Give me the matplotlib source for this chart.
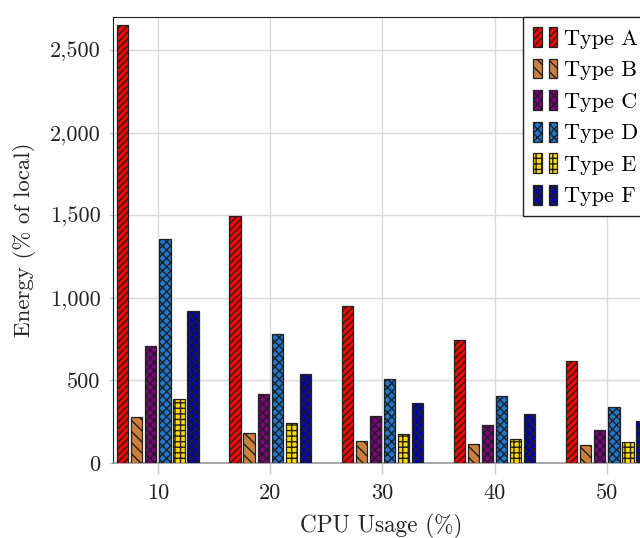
import matplotlib.pyplot as plt
from matplotlib.legend_handler import HandlerTuple
from matplotlib.patches import Rectangle

plt.rcParams['font.family'] = ['cmr10', 'DejaVu Serif']
plt.rcParams['axes.formatter.use_mathtext'] = True
plt.rcParams['hatch.linewidth'] = 1.0

# data
cpu = [10, 20, 30, 40, 50]
types = ['Type A', 'Type B', 'Type C', 'Type D', 'Type E', 'Type F']
type_a = [2650, 1495, 953, 743, 615]
type_b = [280, 181, 135, 117, 107]
type_c = [708, 420, 284, 232, 200]
type_d = [1356, 779, 507, 404, 339]
type_e = [387, 242, 174, 147, 129]
type_f = [922, 539, 365, 295, 252]
yticks = [0, 500, 1000, 1500, 2000, 2500]
ytick_labels = ['0', '500', '1,000', '1,500', '2,000', '2,500']

series = [type_a, type_b, type_c, type_d, type_e, type_f]
colors = ['#ff0000', '#cd7f3c', '#800080', '#1d78d0', '#ffd800', '#0000b4']
hatches = ['/////', '\\\\\\', 'xxxx', 'xxxx', '+++', 'xxxx']

fig = plt.figure(figsize=(6.4, 5.38), dpi=100)
# axes run past the right edge of the figure (reference is cropped there)
ax = fig.add_axes([113 / 640, 75 / 538, 1.0, 446 / 538])

width = 1.0
step = 1.25
handles = []
for i, vals in enumerate(series):
    xs = [c + (i - 2.5) * step for c in cpu]
    ax.bar(xs, vals, width=width, color=colors[i], edgecolor='#202020',
           linewidth=0.9, hatch=hatches[i], zorder=3)
    p = Rectangle((0, 0), 1, 1, facecolor=colors[i], edgecolor='#202020',
                  linewidth=0.9, hatch=hatches[i])
    handles.append((p, p))

ax.set_xlim(6, 6 + 640 / 11.225)
ax.set_ylim(0, 2700)
ax.set_xticks(cpu)
ax.set_xticklabels([str(c) for c in cpu])
ax.set_yticks(yticks)
ax.set_yticklabels(ytick_labels)
ax.grid(True, color='#dadada', linewidth=1.0, zorder=0)
ax.set_axisbelow(True)

ax.spines['bottom'].set_color('#9a9a9a')
ax.spines['bottom'].set_linewidth(1.2)
ax.spines['left'].set_color('#202020')
ax.spines['top'].set_color('#202020')
ax.tick_params(axis='x', colors='#c8c8c8', length=8, width=1.0, pad=7,
               labelsize=16, labelcolor='#222222')
ax.tick_params(axis='y', colors='#c8c8c8', length=3, width=1.0, pad=6,
               labelsize=16, labelcolor='#222222')

ax.set_xlabel('CPU Usage (%)', fontsize=16.7, color='#222222')
ax.xaxis.set_label_coords((381 - 113) / 640, -(526 - 463) / 446, transform=ax.transAxes)
ax.xaxis.label.set_va('center')
ax.set_ylabel('Energy (% of local)', fontsize=16.5, color='#222222', labelpad=10)

leg = fig.legend(handles, types, loc='upper left',
                 bbox_to_anchor=(523 / 640, 1 - 17 / 538),
                 bbox_transform=fig.transFigure,
                 handler_map={tuple: HandlerTuple(ndivide=None, pad=0.3)},
                 fontsize=16, handlelength=1.1, handleheight=1.0,
                 handletextpad=0.28, labelspacing=0.45, borderpad=0.45,
                 borderaxespad=0, fancybox=False, framealpha=1,
                 edgecolor='#202020')
leg.get_frame().set_linewidth(1.0)

fig.savefig('out.png', dpi=100)
